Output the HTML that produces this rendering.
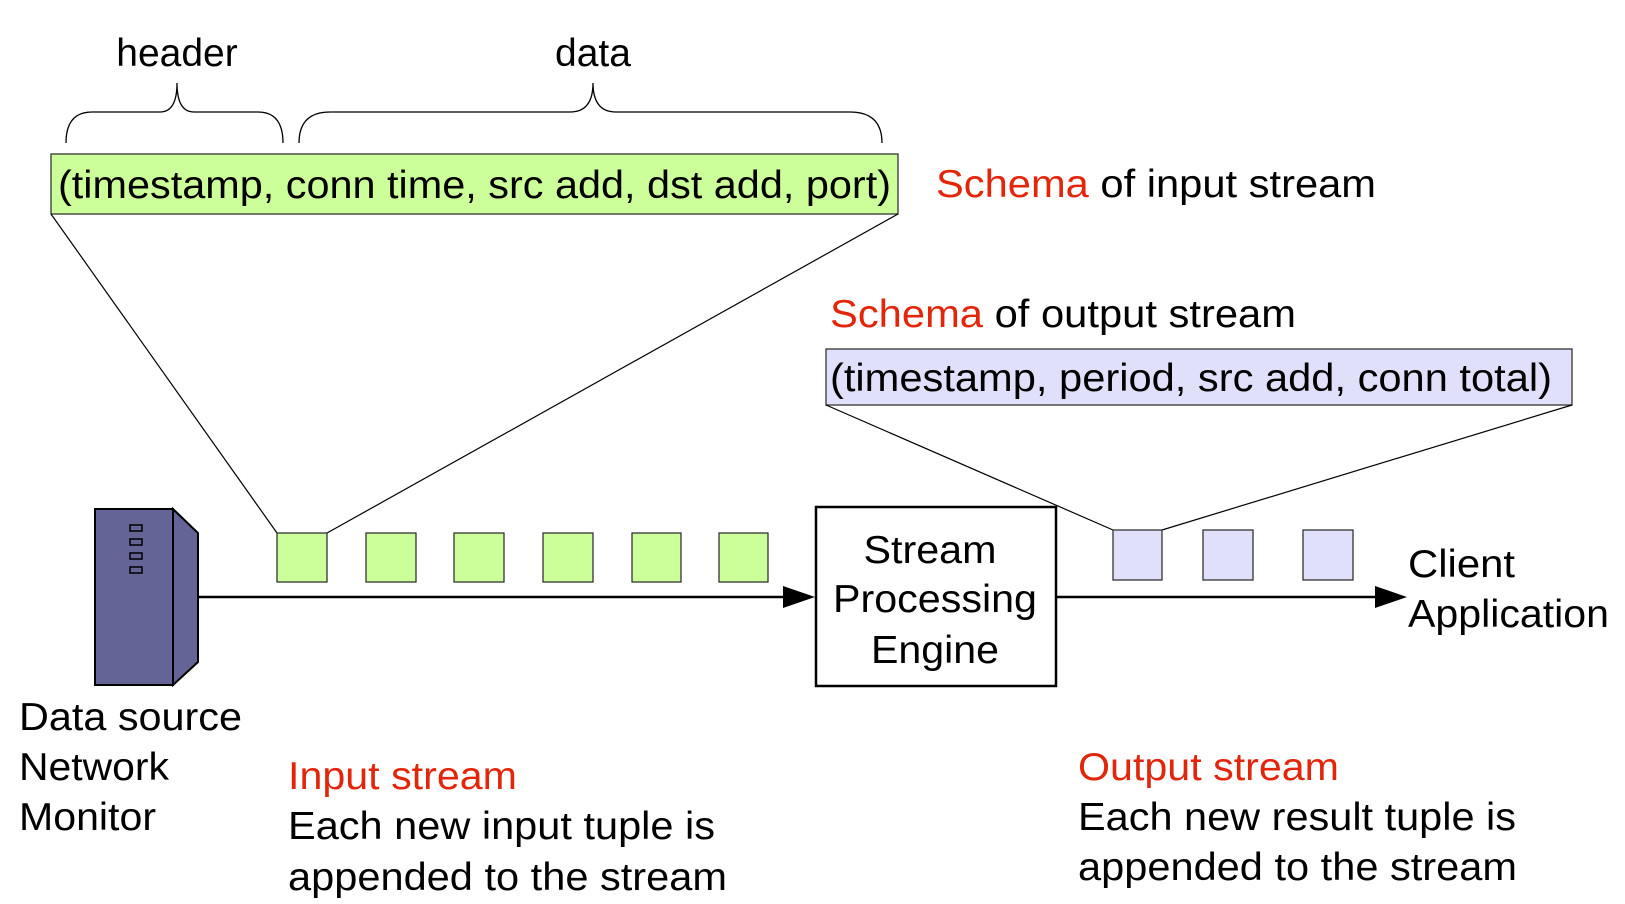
<!DOCTYPE html>
<html><head><meta charset="utf-8"><style>
html,body{margin:0;padding:0;background:#fff;}
svg{display:block;}
text{font-family:"Liberation Sans","DejaVu Sans",sans-serif;font-size:39px;fill:#000;}
.r{fill:#e2260c;}
</style></head><body>
<svg width="1625" height="904" viewBox="0 0 1625 904" xmlns="http://www.w3.org/2000/svg">
<!-- top labels -->
<text x="177" y="66" text-anchor="middle" font-size="38">header</text>
<text x="593" y="66" text-anchor="middle" font-size="38">data</text>
<!-- braces -->
<path d="M66,143 Q66,112 92,112 L160,112 Q177,112 177,83 Q177,112 194,112 L258,112 Q283,112 283,143" fill="none" stroke="#000" stroke-width="1.3"/>
<path d="M299,143 Q299,112 330,112 L570,112 Q593,112 593,83 Q593,112 616,112 L850,112 Q882,112 882,143" fill="none" stroke="#000" stroke-width="1.3"/>
<!-- green schema box -->
<rect x="51" y="154" width="847" height="60" fill="#ccff99" stroke="#333" stroke-width="1.3"/>
<text x="58" y="198" textLength="833" lengthAdjust="spacingAndGlyphs">(timestamp, conn time, src add, dst add, port)</text>
<text x="936" y="197" textLength="440" lengthAdjust="spacingAndGlyphs"><tspan class="r">Schema</tspan> of input stream</text>
<line x1="51" y1="214" x2="277" y2="533" stroke="#000" stroke-width="1.2"/>
<line x1="898" y1="214" x2="327" y2="533" stroke="#000" stroke-width="1.2"/>
<!-- output schema -->
<text x="830" y="327" textLength="466" lengthAdjust="spacingAndGlyphs"><tspan class="r">Schema</tspan> of output stream</text>
<rect x="826" y="349" width="746" height="56" fill="#e0e0fb" stroke="#333" stroke-width="1.3"/>
<text x="830" y="391" textLength="722" lengthAdjust="spacingAndGlyphs">(timestamp, period, src add, conn total)</text>
<line x1="826" y1="405" x2="1113" y2="530" stroke="#000" stroke-width="1.2"/>
<line x1="1572" y1="405" x2="1162" y2="530" stroke="#000" stroke-width="1.2"/>
<!-- server -->
<rect x="95" y="509" width="78" height="176" fill="#646496" stroke="#000" stroke-width="2"/>
<path d="M173,509 L198,533 L198,662 L173,685 z" fill="#646496" stroke="#000" stroke-width="2"/>
<g fill="#646496" stroke="#000" stroke-width="1.5">
<rect x="130" y="525" width="12" height="6"/><rect x="130" y="539" width="12" height="6"/><rect x="130" y="553" width="12" height="6"/><rect x="130" y="567" width="12" height="6"/>
</g>
<!-- input stream -->
<line x1="198" y1="597" x2="790" y2="597" stroke="#000" stroke-width="2.5"/>
<path d="M783,586 L815,597 L783,608 z" fill="#000"/>
<g fill="#ccff99" stroke="#333" stroke-width="1.3">
<rect x="277" y="533" width="50" height="49"/><rect x="366" y="533" width="50" height="49"/><rect x="454" y="533" width="50" height="49"/><rect x="543" y="533" width="50" height="49"/><rect x="632" y="533" width="49" height="49"/><rect x="719" y="533" width="49" height="49"/>
</g>
<!-- engine -->
<rect x="816" y="507" width="240" height="179" fill="#fff" stroke="#000" stroke-width="2.5"/>
<text x="930" y="563" text-anchor="middle" textLength="133" lengthAdjust="spacingAndGlyphs">Stream</text>
<text x="935" y="612" text-anchor="middle" textLength="204" lengthAdjust="spacingAndGlyphs">Processing</text>
<text x="935" y="663" text-anchor="middle" textLength="128" lengthAdjust="spacingAndGlyphs">Engine</text>
<!-- output -->
<line x1="1056" y1="597" x2="1380" y2="597" stroke="#000" stroke-width="2.5"/>
<path d="M1375,586 L1407,597 L1375,608 z" fill="#000"/>
<g fill="#e0e0fb" stroke="#333" stroke-width="1.3">
<rect x="1113" y="530" width="49" height="50"/><rect x="1203" y="530" width="50" height="50"/><rect x="1303" y="530" width="50" height="50"/>
</g>
<text x="1408" y="577" textLength="107" lengthAdjust="spacingAndGlyphs">Client</text>
<text x="1408" y="627" textLength="201" lengthAdjust="spacingAndGlyphs">Application</text>
<!-- bottom labels -->
<text x="19" y="730" textLength="223" lengthAdjust="spacingAndGlyphs">Data source</text>
<text x="19" y="780" textLength="150" lengthAdjust="spacingAndGlyphs">Network</text>
<text x="19" y="830" textLength="137" lengthAdjust="spacingAndGlyphs">Monitor</text>
<text x="288" y="789" class="r" textLength="229" lengthAdjust="spacingAndGlyphs">Input stream</text>
<text x="288" y="839" textLength="427" lengthAdjust="spacingAndGlyphs">Each new input tuple is</text>
<text x="288" y="890" textLength="439" lengthAdjust="spacingAndGlyphs">appended to the stream</text>
<text x="1078" y="780" class="r" textLength="261" lengthAdjust="spacingAndGlyphs">Output stream</text>
<text x="1078" y="830" textLength="438" lengthAdjust="spacingAndGlyphs">Each new result tuple is</text>
<text x="1078" y="880" textLength="439" lengthAdjust="spacingAndGlyphs">appended to the stream</text>
</svg>
</body></html>
